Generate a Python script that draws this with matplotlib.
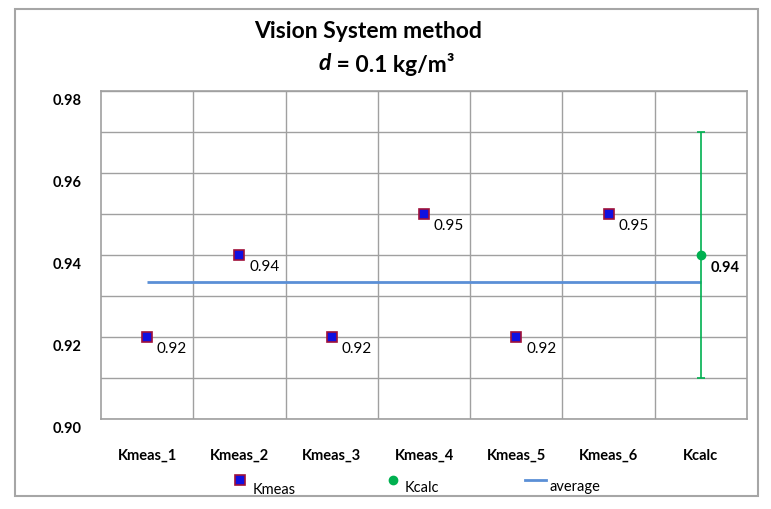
import matplotlib.pyplot as plt
from matplotlib.transforms import ScaledTranslation
from matplotlib.patches import Rectangle
from matplotlib.lines import Line2D

plt.rcParams['font.family'] = ['Lato', 'DejaVu Sans']

# data
categories = ['Kmeas_1', 'Kmeas_2', 'Kmeas_3', 'Kmeas_4', 'Kmeas_5', 'Kmeas_6', 'Kcalc']
kmeas = [0.92, 0.94, 0.92, 0.95, 0.92, 0.95]
kcalc = 0.94
kcalc_err = 0.03
average = sum(kmeas) / len(kmeas)
y_ticks = [0.90, 0.92, 0.94, 0.96, 0.98]

W, H = 771, 510
fig = plt.figure(figsize=(W / 100, H / 100), dpi=100)
ax = fig.add_axes([101 / W, (H - 420) / H, (747 - 101) / W, (420 - 92) / H])

x_meas = list(range(len(kmeas)))
x_calc = len(categories) - 1

# average line across all categories
ax.plot([0, x_calc], [average, average], color='#5b8fd6', lw=2.0, zorder=3,
        solid_capstyle='butt', label='average')

# measured values
ax.plot(x_meas, kmeas, ls='none', marker='s', ms=6.5, mfc='#1010e0',
        mec='#a0103a', mew=1.2, zorder=4, label='Kmeas')
for x, v in zip(x_meas, kmeas):
    ax.annotate(f'{v:.2f}', (x, v), xytext=(7, -8), textcoords='offset points',
                fontsize=11, ha='left', va='center')

# calculated value with error bar
ax.errorbar([x_calc], [kcalc], yerr=[kcalc_err], fmt='o', color='#00b050',
            ms=6, ecolor='#00b050', elinewidth=1.2, capsize=3, capthick=1.2,
            zorder=4, label='Kcalc')
ax.annotate(f'{kcalc:.2f}', (x_calc, kcalc), xytext=(7, -9), textcoords='offset points',
            fontsize=10.5, fontweight='bold', ha='left', va='center')

ax.set_xlim(-0.5, len(categories) - 0.5)
ax.set_ylim(0.90, 0.98)

ax.set_yticks(y_ticks)
ax.set_yticklabels([f'{t:.2f}' for t in y_ticks], fontsize=10.5, fontweight='bold')
ax.set_yticks([0.91, 0.93, 0.95, 0.97], minor=True)
ax.set_xticks(range(len(categories)))
ax.set_xticklabels(categories, fontsize=10.5, fontweight='bold')
ax.set_xticks([i + 0.5 for i in range(len(categories) - 1)], minor=True)

ax.tick_params(axis='both', which='both', length=0)
ax.tick_params(axis='y', pad=14)
ax.tick_params(axis='x', pad=21)
shift = ScaledTranslation(0, -0.08, fig.dpi_scale_trans)
for lab in ax.get_yticklabels():
    lab.set_transform(lab.get_transform() + shift)

ax.grid(True, axis='y', which='both', color='#a0a0a0', lw=1.0)
ax.grid(True, axis='x', which='minor', color='#a0a0a0', lw=1.0)
ax.grid(False, axis='x', which='major')
ax.set_axisbelow(True)
for s in ax.spines.values():
    s.set_color('#a0a0a0')
    s.set_linewidth(1.2)

# title
fig.text(368 / W, 1 - 32 / H, 'Vision System method', ha='center', va='center',
         fontsize=16.5, fontweight='bold')
fig.text(331 / W, 1 - 64 / H, 'd', ha='right', va='center',
         fontsize=16.5, fontweight='bold', fontstyle='italic')
fig.text(331 / W, 1 - 64 / H, ' = 0.1 kg/m\u00b3', ha='left', va='center',
         fontsize=16.5, fontweight='bold')

# legend drawn below the plot
fig.add_artist(Line2D([240 / W], [1 - 481 / H], ls='none', marker='s', ms=6.5,
                      mfc='#1010e0', mec='#a0103a', mew=1.2))
fig.text(253 / W, 1 - 490 / H, 'Kmeas', fontsize=10.5, va='center')
fig.add_artist(Line2D([393 / W], [1 - 481 / H], ls='none', marker='o', ms=6,
                      color='#00b050'))
fig.text(405 / W, 1 - 488 / H, 'Kcalc', fontsize=10.5, va='center')
fig.add_artist(Line2D([525 / W, 546 / W], [1 - 481 / H, 1 - 481 / H], color='#5b8fd6', lw=2.0))
fig.text(549 / W, 1 - 487 / H, 'average', fontsize=10.5, va='center')

# outer chart frame
fig.add_artist(Rectangle((15 / W, 1 - 497 / H), (758 - 15) / W, (497 - 10) / H,
                         transform=fig.transFigure, fill=False, ec='#a6a6a6', lw=1.5))

fig.savefig('out.png', dpi=100)
